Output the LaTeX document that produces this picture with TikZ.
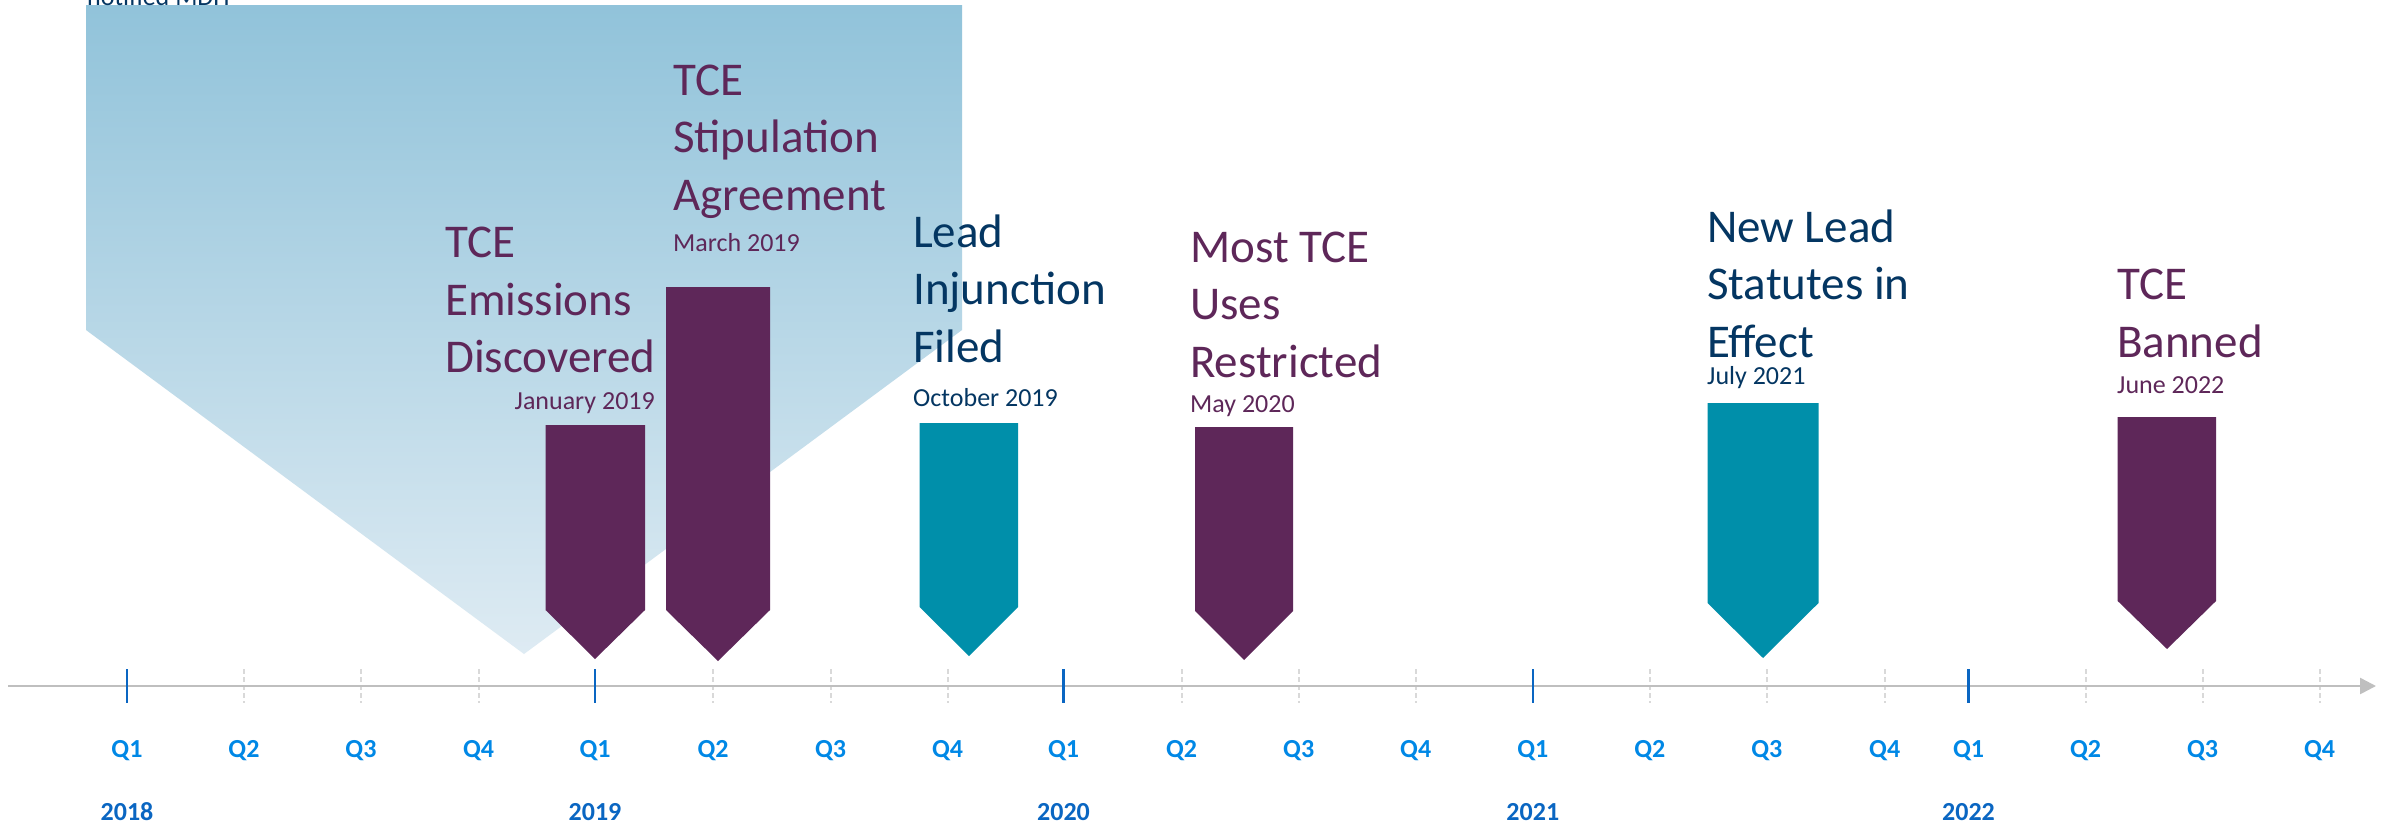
\documentclass[tikz,border=0pt]{standalone}
\usepackage{fontspec}
\setmainfont{Carlito}
\usetikzlibrary{arrows.meta}
\definecolor{tcpurple}{RGB}{94,39,89}
\definecolor{tcteal}{RGB}{0,143,170}
\definecolor{tcnavy}{RGB}{4,54,98}
\definecolor{qblue}{RGB}{0,136,230}
\definecolor{yblue}{RGB}{10,102,194}
\definecolor{axisgray}{RGB}{191,191,191}
\definecolor{tickgray}{RGB}{217,217,217}
\definecolor{bgtop}{RGB}{145,195,218}
\definecolor{bgbot}{RGB}{222,235,243}
\tikzset{
  bigtext/.style={font=\fontsize{47}{57}\selectfont, inner sep=0pt, anchor=base west},
  datetext/.style={font=\fontsize{26}{30}\selectfont, inner sep=0pt, anchor=base west},
  purtext/.style={text=tcpurple},
  navtext/.style={text=tcnavy},
  qlab/.style={font=\fontsize{26}{30}\selectfont\bfseries, text=qblue, inner sep=0pt, anchor=base},
  ylab/.style={font=\fontsize{26}{30}\selectfont\bfseries, text=yblue, inner sep=0pt, anchor=base},
  purmark/.style={fill=tcpurple, draw=none},
  tealmark/.style={fill=tcteal, draw=none},
  minortick/.style={draw=tickgray, line width=2pt, dash pattern=on 5pt off 3pt},
  majortick/.style={draw=yblue, line width=2.5pt},
  axisline/.style={draw=axisgray, line width=2.5pt, -{Triangle[length=16pt,width=16pt]}}
}
\begin{document}
\begin{tikzpicture}[x=1pt,y=-1pt]
\useasboundingbox (0,0) rectangle (2390,823);
\clip (0,0) rectangle (2390,823);
\fill[white] (0,0) rectangle (2390,823);
% background chevron
\shade[top color=bgtop, bottom color=bgbot] (86,5) -- (962,5) -- (962,330) -- (524,654) -- (86,330) -- cycle;
\node[datetext, navtext] (notified) at (87,5) {notified MDH};
% minor ticks
\foreach \x in {244,361,478.6,713,830.5,947.5,1181.6,1298.7,1415.7,1649.8,1766.8,1884.7,2085.5,2202.6,2319.6}
  \draw[minortick] (\x,669) -- (\x,703);
% axis
\coordinate (axstart) at (8,686);
\coordinate (axend) at (2376,686);
\draw[axisline] (axstart) -- (axend);
% major ticks
\foreach \x in {127,595,1063.5,1532.8,1968.5}
  \draw[majortick] (\x,669) -- (\x,703);
% quarter labels
\foreach \x/\q [count=\i] in {127/Q1,244/Q2,361/Q3,478.6/Q4,595/Q1,713/Q2,830.5/Q3,947.5/Q4,1063.5/Q1,1181.6/Q2,1298.7/Q3,1415.7/Q4,1532.8/Q1,1649.8/Q2,1766.8/Q3,1884.7/Q4,1968.5/Q1,2085.5/Q2,2202.6/Q3,2319.6/Q4}
  \node[qlab] (q\i) at (\x,757) {\q};
% year labels
\node[ylab] (y2018) at (127,820) {2018};
\node[ylab] (y2019) at (595,820) {2019};
\node[ylab] (y2020) at (1063.5,820) {2020};
\node[ylab] (y2021) at (1532.8,820) {2021};
\node[ylab] (y2022) at (1968.5,820) {2022};
% event markers
\fill[purmark] (545.5,425) -- (645,425) -- (645,610) -- (595,659) -- (545.5,610) -- cycle;
\fill[purmark] (666,287) -- (770,287) -- (770,610) -- (718,661) -- (666,610) -- cycle;
\fill[tealmark] (919.5,423) -- (1018,423) -- (1018,607) -- (969,656) -- (919.5,607) -- cycle;
\fill[purmark] (1195,427) -- (1293,427) -- (1293,611) -- (1244,660) -- (1195,611) -- cycle;
\fill[tealmark] (1707.5,403) -- (1818.5,403) -- (1818.5,603) -- (1763,658) -- (1707.5,603) -- cycle;
\fill[purmark] (2117.7,417) -- (2216,417) -- (2216,601) -- (2167,649) -- (2117.7,601) -- cycle;
% event 1
\node[bigtext, purtext] (e1a) at (445,257) {TCE};
\node[bigtext, purtext] (e1b) at (445,315) {Emissions};
\node[bigtext, purtext] (e1c) at (445,372) {Discovered};
\node[datetext, purtext, anchor=base east] (e1d) at (655,409) {January 2019};
% event 2
\node[bigtext, purtext] (e2a) at (673,95) {TCE};
\node[bigtext, purtext] (e2b) at (673,152) {Stipulation};
\node[bigtext, purtext] (e2c) at (673,210) {Agreement};
\node[datetext, purtext] (e2d) at (673,251) {March 2019};
% event 3
\node[bigtext, navtext] (e3a) at (913,247) {Lead};
\node[bigtext, navtext] (e3b) at (913,304) {Injunction};
\node[bigtext, navtext] (e3c) at (913,362) {Filed};
\node[datetext, navtext] (e3d) at (913,406) {October 2019};
% event 4
\node[bigtext, purtext] (e4a) at (1190,262) {Most TCE};
\node[bigtext, purtext] (e4b) at (1190,319) {Uses};
\node[bigtext, purtext] (e4c) at (1190,377) {Restricted};
\node[datetext, purtext] (e4d) at (1190,412) {May 2020};
% event 5
\node[bigtext, navtext] (e5a) at (1707,242) {New Lead};
\node[bigtext, navtext] (e5b) at (1707,299) {Statutes in};
\node[bigtext, navtext] (e5c) at (1707,357) {Effect};
\node[datetext, navtext] (e5d) at (1707,384) {July 2021};
% event 6
\node[bigtext, purtext] (e6a) at (2117,299) {TCE};
\node[bigtext, purtext] (e6b) at (2117,357) {Banned};
\node[datetext, purtext] (e6d) at (2117,393) {June 2022};
\end{tikzpicture}
\end{document}
